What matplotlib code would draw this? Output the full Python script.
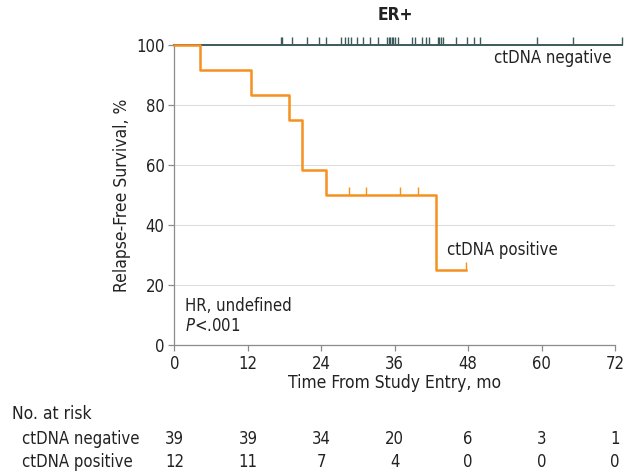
import numpy as np
import matplotlib
matplotlib.use('Agg')
import matplotlib.pyplot as plt
from matplotlib.transforms import blended_transform_factory

plt.rcParams['font.family'] = ['DejaVu Sans']
plt.rcParams['font.stretch'] = 'condensed'

# Kaplan-Meier steps
neg_times = [0, 73.1]
neg_surv = [100, 100]
neg_censor = [17.4, 17.6, 19.3, 21.6, 23.7, 24.8, 27.2, 27.8, 28.3, 28.9, 29.8,
              30.9, 32.0, 33.3, 34.7, 35.0, 35.2, 35.5, 35.8, 36.1, 36.6, 38.9,
              39.3, 40.5, 41.1, 41.6, 43.0, 43.3, 43.6, 43.9, 46.0, 47.8, 48.9,
              49.9, 59.2, 65.2, 73.1]

pos_times = [0, 4.2, 12.5, 18.8, 20.8, 20.9, 24.8, 42.7, 47.7]
pos_surv = [100, 91.7, 83.3, 75.0, 66.7, 58.3, 50.0, 25.0, 25.0]
pos_censor = [28.5, 31.3, 36.9, 39.8, 47.7]

risk_times = [0, 12, 24, 36, 48, 60, 72]
risk_neg = [39, 39, 34, 20, 6, 3, 1]
risk_pos = [12, 11, 7, 4, 0, 0, 0]

orange = '#F7901E'
dark = '#3E5A5C'
gray = '#8C8C8C'
txt = '#222222'

fig = plt.figure(figsize=(6.25, 4.71), dpi=100)
ax = fig.add_axes([0.279, 0.2675, 0.705, 0.637])

ax.step(neg_times, neg_surv, where='post', color=dark, lw=1.4, clip_on=False, zorder=3)
ax.plot(neg_censor, [100] * len(neg_censor), ls='none', marker=2, ms=5.5,
        mew=1.0, color=dark, clip_on=False, zorder=3)

ax.step(pos_times, pos_surv, where='post', color=orange, lw=1.8, clip_on=False, zorder=4)
ax.plot(pos_censor, [pos_surv[np.searchsorted(pos_times, t, side='right') - 1] for t in pos_censor],
        ls='none', marker=2, ms=5.5, mew=1.0, color=orange, clip_on=False, zorder=4)

ax.set_xlim(0, 72)
ax.set_ylim(0, 100)
ax.set_xticks(risk_times)
ax.set_yticks(range(0, 101, 20))
ax.yaxis.grid(True, color='#DDDDDD', lw=0.8)
ax.set_axisbelow(True)
for s in ['top', 'right']:
    ax.spines[s].set_visible(False)
for s in ['left', 'bottom']:
    ax.spines[s].set_color(gray)
    ax.spines[s].set_linewidth(0.9)
ax.tick_params(direction='out', length=4, width=0.9, color=gray,
               labelsize=12, labelcolor=txt, pad=3)

ax.set_xlabel('Time From Study Entry, mo', fontsize=12.5, color=txt, labelpad=1)
ax.set_ylabel('Relapse-Free Survival, %', fontsize=12.5, color=txt, labelpad=4)
fig.text(395 / 625, 1 - 15 / 471, 'ER+', ha='center', va='center',
         fontsize=12.5, fontweight='bold', color=txt)

ax.text(71.5, 95.5, 'ctDNA negative', ha='right', va='center', fontsize=12, color=txt)
ax.text(44.5, 31.5, 'ctDNA positive', ha='left', va='center', fontsize=12, color=txt)
ax.text(1.7, 13, 'HR, undefined', ha='left', va='center', fontsize=12, color=txt)
ax.text(1.7, 6.3, r'$\it{P}$<.001', ha='left', va='center', fontsize=12, color=txt)

# number at risk table
tr = blended_transform_factory(ax.transData, fig.transFigure)
fig.text(12 / 625, 1 - 414 / 471, 'No. at risk', ha='left', va='center', fontsize=12.5, color=txt)
fig.text(22 / 625, 1 - 439 / 471, 'ctDNA negative', ha='left', va='center', fontsize=12, color=txt)
fig.text(22 / 625, 1 - 462 / 471, 'ctDNA positive', ha='left', va='center', fontsize=12, color=txt)
for t, n1, n2 in zip(risk_times, risk_neg, risk_pos):
    ax.text(t, 1 - 439 / 471, str(n1), transform=tr, ha='center', va='center',
            fontsize=12, color=txt, clip_on=False)
    ax.text(t, 1 - 462 / 471, str(n2), transform=tr, ha='center', va='center',
            fontsize=12, color=txt, clip_on=False)

fig.savefig('out.png', dpi=100)
